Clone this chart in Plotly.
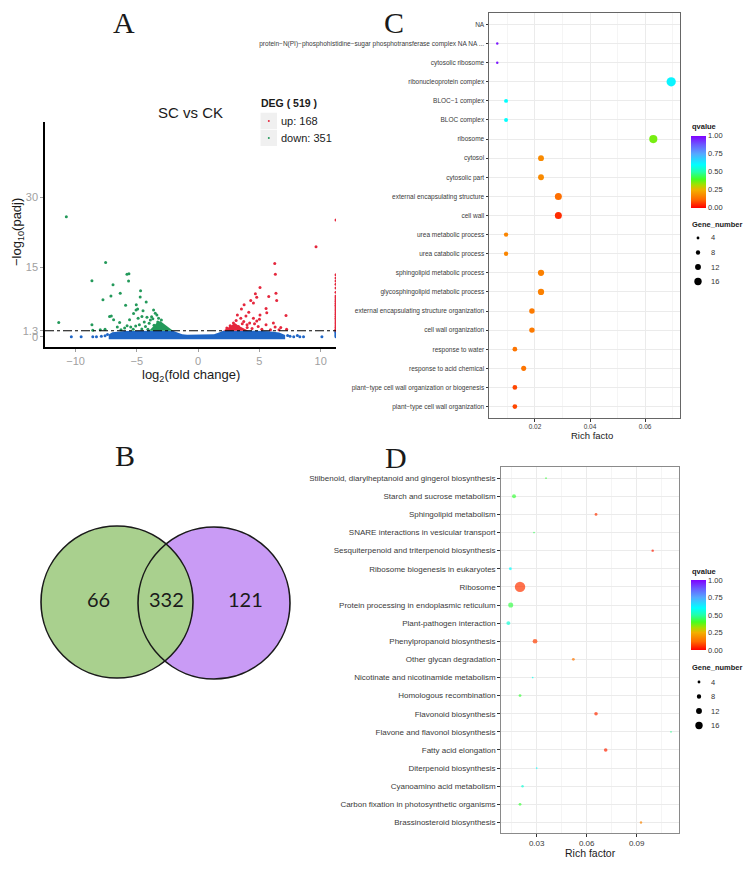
import plotly.graph_objects as go

W, H = 756, 869
def px(x): return x / W
def py(y): return 1 - y / H

SANS = "Liberation Sans, Arial, sans-serif"
SERIF = "Liberation Serif, Times New Roman, serif"

# ---------------- DATA ----------------
deg_up = 168
deg_down = 351

# volcano: significant down (green)
green_x = [-10.76, -7.55, -8.67, -5.81, -5.65, -5.68, -6.95, -6.36, -7.12, -7.77, -4.70, -4.73, -4.24,
           -5.92, -5.05, -5.07, -4.94, -5.27, -7.23, -7.09, -6.90, -6.41, -11.38, -8.67, -7.99, -6.0,
           -5.6, -5.5, -4.59, -4.18, -3.64, -3.5, -3.37, -3.23, -4.4, -4.8, -4.0, -3.9, -4.3, -5.1,
           -4.6, -3.8, -3.3, -3.6, -3.1, -2.9, -4.1, -3.5, -5.3, -6.3, -7.6, -8.6, -3.0, -3.7, -2.7,
           -2.5, -5.8, -4.5, -4.9, -6.6]
green_y = [25.9, 16.0, 12.1, 13.5, 13.6, 12.0, 11.2, 9.4, 8.8, 8.0, 9.9, 8.6, 7.5,
           6.8, 6.9, 5.8, 6.0, 5.0, 4.4, 4.5, 3.7, 3.1, 3.1, 2.6, 1.5, 1.9,
           3.7, 2.1, 4.4, 4.2, 5.8, 5.1, 4.7, 4.0, 3.2, 2.6, 2.9, 3.6, 2.2, 2.3,
           1.7, 4.3, 3.2, 2.5, 2.7, 2.2, 1.6, 1.8, 1.6, 1.5, 1.6, 1.4, 3.6, 3.9, 2.0,
           1.6, 2.4, 5.6, 4.0, 2.1]
green_core_x = [-4.0, -3.7, -3.4, -3.1, -2.8, -2.4, -2.05]
green_core_y = [1.3, 2.2, 3.0, 3.4, 2.8, 2.0, 1.3]

# volcano: significant up (red)
red_x = [11.25, 9.62, 6.25, 6.30, 5.05, 4.67, 5.76, 6.35, 6.41, 4.29, 4.78, 3.75, 4.51, 3.53, 5.54,
         5.6, 4.13, 5.05, 7.17, 3.2, 3.48, 4.51, 3.72, 4.78, 3.99, 5.54, 6.14, 6.28, 6.74, 7.22,
         2.88, 2.61, 3.29, 2.34, 4.2, 4.9, 3.9, 4.4, 5.2, 5.9, 3.1, 3.6, 4.6, 5.0, 3.3, 2.7, 6.6, 4.0]
red_y = [25.2, 19.4, 15.8, 13.5, 10.6, 9.3, 8.7, 9.4, 7.8, 7.8, 8.5, 6.9, 7.3, 6.0, 6.1,
         5.2, 5.3, 4.7, 4.6, 4.7, 4.0, 4.0, 3.3, 3.4, 2.6, 2.6, 3.0, 2.1, 2.0, 1.6,
         3.0, 2.4, 2.2, 1.9, 3.0, 2.2, 4.5, 1.8, 1.6, 1.5, 3.5, 2.8, 2.8, 3.8, 1.7, 1.6, 1.5, 2.0]
red_core_x = [2.05, 2.4, 2.75, 3.0, 3.3, 3.7, 4.1]
red_core_y = [1.3, 2.0, 2.7, 3.0, 2.4, 1.8, 1.3]
red_cap_x = [11.25] * 26
red_cap_y = [13.4, 12.7, 12.0, 11.3, 10.5, 9.6, 8.8, 8.4, 8.0, 7.6, 7.2, 6.8, 6.4, 6.0, 5.6, 5.2,
             4.8, 4.4, 4.0, 3.6, 3.2, 2.8, 2.4, 2.0, 1.6, 1.4]

# volcano: not significant (blue) - dense band outline and scattered points
blue_area_x = [-7.3, -7.0, -6.0, -4.5, -2.05, -1.7, -1.3, -0.9, 0.9, 1.3, 1.7, 2.05, 4.5, 5.8, 6.6, 7.1, 7.1, -7.3]
blue_area_y = [0.5, 1.0, 1.25, 1.3, 1.3, 0.9, 0.55, 0.42, 0.42, 0.55, 0.9, 1.3, 1.3, 1.2, 0.9, 0.4, -0.55, -0.55]
blue_x = [-10.35, -9.55, -8.6, -8.3, -7.9, -7.6, -7.4, 7.3, 7.5, 7.8, 8.1, 8.3, 8.6, 10.1,
          11.25, 11.25, 11.25, 11.25, 11.25, 11.25, 11.25]
blue_y = [0.0, 0.0, 0.0, 0.0, 0.1, 0.2, 0.5, 0.3, 0.1, 0.0, 0.3, 0.0, 0.0, 0.0,
          0.0, 0.2, 0.4, 0.6, 0.8, 1.0, 1.2]
padj_cut = 1.3
vol_xticks = [-10, -5, 0, 5, 10]
vol_yticks = [0, 1.3, 15, 30]
vol_yticktext = ["0", "1.3", "15", "30"]

# Venn
venn_values = [66, 332, 121]

# GO enrichment (panel C)
go_terms = ["NA",
            "protein\u2212N(PI)\u2212phosphohistidine\u2212sugar phosphotransferase complex NA NA ...",
            "cytosolic ribosome", "ribonucleoprotein complex", "BLOC\u22121 complex", "BLOC complex",
            "ribosome", "cytosol", "cytosolic part", "external encapsulating structure", "cell wall",
            "urea metabolic process", "urea catabolic process", "sphingolipid metabolic process",
            "glycosphingolipid metabolic process", "external encapsulating structure organization",
            "cell wall organization", "response to water", "response to acid chemical",
            "plant\u2212type cell wall organization or biogenesis", "plant\u2212type cell wall organization"]
go_rich = [None, 0.0063, 0.0063, 0.0695, 0.0095, 0.0095, 0.0630, 0.0222, 0.0222, 0.0285, 0.0285,
           0.0095, 0.0095, 0.0222, 0.0222, 0.0189, 0.0189, 0.0127, 0.0159, 0.0127, 0.0127]
go_q = [None, 0.97, 0.97, 0.62, 0.60, 0.60, 0.36, 0.18, 0.18, 0.13, 0.05, 0.17, 0.17, 0.16, 0.16,
        0.15, 0.15, 0.14, 0.14, 0.08, 0.08]
go_genes = [None, 3, 3, 21, 7, 7, 18, 12, 12, 15, 15, 8, 8, 13, 13, 11, 11, 9, 10, 9, 9]

# KEGG enrichment (panel D)
kegg_terms = ["Stilbenoid, diarylheptanoid and gingerol biosynthesis", "Starch and sucrose metabolism",
              "Sphingolipid metabolism", "SNARE interactions in vesicular transport",
              "Sesquiterpenoid and triterpenoid biosynthesis", "Ribosome biogenesis in eukaryotes",
              "Ribosome", "Protein processing in endoplasmic reticulum", "Plant-pathogen interaction",
              "Phenylpropanoid biosynthesis", "Other glycan degradation",
              "Nicotinate and nicotinamide metabolism", "Homologous recombination",
              "Flavonoid biosynthesis", "Flavone and flavonol biosynthesis", "Fatty acid elongation",
              "Diterpenoid biosynthesis", "Cyanoamino acid metabolism",
              "Carbon fixation in photosynthetic organisms", "Brassinosteroid biosynthesis"]
kegg_rich = [0.0356, 0.0164, 0.0656, 0.0284, 0.0996, 0.0142, 0.0200, 0.0144, 0.0130, 0.0290,
             0.0520, 0.0276, 0.0200, 0.0656, 0.1106, 0.0714, 0.0300, 0.0215, 0.0200, 0.0926]
kegg_q = [0.42, 0.42, 0.06, 0.44, 0.03, 0.60, 0.06, 0.43, 0.55, 0.07, 0.14, 0.58, 0.42, 0.05,
          0.48, 0.04, 0.60, 0.55, 0.42, 0.17]
kegg_genes = [1, 7, 4, 1, 3, 4, 24, 10, 7, 9, 4, 1, 4, 6, 1, 6, 1, 3, 4, 3]

size_legend = [4, 8, 12, 16]
q_ticks = [0, 0.25, 0.5, 0.75, 1.0]

# ---------------- STYLE ----------------
RED = "#E5273D"
GREEN = "#23995A"
BLUE = "#1F66C6"
QSCALE = [[0.0, "#FF0000"], [0.12, "#FF6A00"], [0.25, "#F2B000"], [0.32, "#AADD00"],
          [0.40, "#44FF22"], [0.50, "#22FFAA"], [0.60, "#00FFFF"], [0.75, "#55AAFF"],
          [0.88, "#6A5AFF"], [1.0, "#8000FF"]]

def gsize(v):
    return 0.38 * v + 1.3

fig = go.Figure()

# ---- Panel A: volcano ----
fig.add_trace(go.Scatter(x=blue_area_x, y=blue_area_y, fill="toself", mode="lines",
                         line=dict(width=0), fillcolor=BLUE, xaxis="x", yaxis="y", hoverinfo="skip"))
fig.add_trace(go.Scatter(x=blue_x, y=blue_y, mode="markers", marker=dict(size=3, color=BLUE),
                         xaxis="x", yaxis="y"))
fig.add_trace(go.Scatter(x=green_core_x, y=green_core_y, fill="toself", mode="lines",
                         line=dict(width=0), fillcolor=GREEN, xaxis="x", yaxis="y"))
fig.add_trace(go.Scatter(x=green_x, y=green_y, mode="markers", marker=dict(size=3, color=GREEN),
                         xaxis="x", yaxis="y"))
fig.add_trace(go.Scatter(x=red_core_x, y=red_core_y, fill="toself", mode="lines",
                         line=dict(width=0), fillcolor=RED, xaxis="x", yaxis="y"))
fig.add_trace(go.Scatter(x=red_x + red_cap_x, y=red_y + red_cap_y, mode="markers",
                         marker=dict(size=3, color=RED), xaxis="x", yaxis="y"))

# ---- Panel C: GO dot plot ----
c_idx = [i for i, r in enumerate(go_rich) if r is not None]
fig.add_trace(go.Scatter(
    x=[go_rich[i] for i in c_idx], y=c_idx, mode="markers",
    marker=dict(size=[gsize(go_genes[i]) for i in c_idx], color=[go_q[i] for i in c_idx],
                coloraxis="coloraxis", line=dict(width=0), opacity=1),
    xaxis="x2", yaxis="y2"))

# ---- Panel D: KEGG dot plot ----
fig.add_trace(go.Scatter(
    x=kegg_rich, y=list(range(len(kegg_terms))), mode="markers",
    marker=dict(size=[gsize(v) for v in kegg_genes], color=kegg_q,
                coloraxis="coloraxis2", line=dict(width=0)),
    xaxis="x3", yaxis="y3"))

grid = "#EBEBEB"
minor_grid = "#F5F5F5"

def dot_yaxis(domain, n, labels, fsize, lc):
    return dict(domain=domain, range=[n - 1 + 0.6, -0.6], tickmode="array",
                tickvals=list(range(n)), ticktext=labels, showgrid=True, gridcolor=grid,
                gridwidth=0.8, zeroline=False, showline=True, mirror=True, linecolor=lc,
                linewidth=1, ticks="outside", ticklen=2.5, tickcolor="#333333", tickwidth=0.8,
                tickfont=dict(size=fsize, color="#3A3A3A", family=SANS), automargin=False)

fig.update_layout(
    width=W, height=H, margin=dict(l=0, r=0, t=0, b=0),
    paper_bgcolor="white", plot_bgcolor="rgba(0,0,0,0)", showlegend=False,
    font=dict(family=SANS),
    xaxis=dict(domain=[px(45), px(336)], range=[-12.5, 11.25], anchor="y",
               showline=True, linecolor="black", linewidth=1.5, showgrid=False, zeroline=False,
               tickmode="array", tickvals=vol_xticks, ticks="outside", ticklen=3,
               tickcolor="#A0A0A0", tickfont=dict(size=11, color="#A0A0A0"), automargin=False),
    yaxis=dict(domain=[py(347), py(122)], range=[-2.2, 46.3], anchor="x",
               showline=True, linecolor="black", linewidth=1.5, showgrid=False, zeroline=False,
               tickmode="array", tickvals=vol_yticks, ticktext=vol_yticktext, ticks="outside",
               ticklen=3, tickcolor="#A0A0A0", tickfont=dict(size=11, color="#A0A0A0"),
               automargin=False),
    xaxis2=dict(domain=[px(489), px(680)], range=[0.0033, 0.0727], anchor="y2",
                tick0=0, dtick=0.02, tickformat=".2f", showgrid=True, gridcolor=grid, gridwidth=0.8,
                minor=dict(dtick=0.01, showgrid=True, gridcolor=minor_grid, gridwidth=0.5),
                zeroline=False, showline=True, mirror=True, linecolor="#666666", linewidth=1,
                ticks="outside", ticklen=2.5, tickcolor="#333333", tickwidth=0.8,
                tickfont=dict(size=6.5, color="#3A3A3A"), automargin=False),
    yaxis2=dot_yaxis([py(418), py(13)], len(go_terms), go_terms, 6.5, "#666666") | dict(anchor="x2"),
    xaxis3=dict(domain=[px(500.7), px(679)], range=[0.0084, 0.1154], anchor="y3",
                tick0=0, dtick=0.03, tickformat=".2f", showgrid=True, gridcolor=grid, gridwidth=0.8,
                minor=dict(dtick=0.015, showgrid=True, gridcolor=minor_grid, gridwidth=0.5),
                zeroline=False, showline=True, mirror=True, linecolor="#8A8A8A", linewidth=1,
                ticks="outside", ticklen=2.5, tickcolor="#333333", tickwidth=0.8,
                tickfont=dict(size=8, color="#3A3A3A"), automargin=False),
    yaxis3=dot_yaxis([py(833.3), py(467.3)], len(kegg_terms), kegg_terms, 8, "#8A8A8A") | dict(anchor="x3"),
    coloraxis=dict(colorscale=QSCALE, cmin=0, cmax=1,
                   colorbar=dict(x=px(691), xanchor="left", y=py(171.5), yanchor="middle",
                                 len=72, lenmode="pixels", thickness=15, thicknessmode="pixels",
                                 xpad=0, ypad=0, outlinewidth=0, tickmode="array",
                                 tickvals=q_ticks, ticktext=[f"{v:.2f}" for v in q_ticks],
                                 ticks="", tickfont=dict(size=7.5, color="#333333"))),
    coloraxis2=dict(colorscale=QSCALE, cmin=0, cmax=1,
                    colorbar=dict(x=px(691), xanchor="left", y=py(615), yanchor="middle",
                                  len=70, lenmode="pixels", thickness=15, thicknessmode="pixels",
                                  xpad=0, ypad=0, outlinewidth=0, tickmode="array",
                                  tickvals=q_ticks, ticktext=[f"{v:.2f}" for v in q_ticks],
                                  ticks="", tickfont=dict(size=7.5, color="#333333"))),
)

annotations = []
def ann(text, x, y, size, color="#1A1A1A", xanchor="center", family=SANS, angle=0):
    annotations.append(dict(text=text, x=px(x), y=py(y), xref="paper", yref="paper",
                            xanchor=xanchor, yanchor="middle", showarrow=False, textangle=angle,
                            font=dict(size=size, color=color, family=family)))

# panel letters
ann("A", 124, 22, 30, family=SERIF)
ann("B", 125, 455, 30, family=SERIF)
ann("C", 394, 22, 30, family=SERIF)
ann("D", 396, 457, 30, family=SERIF)

# volcano texts
ann("SC vs CK", 190.5, 112, 15)
ann("\u2212log<sub>10</sub>(padj)", 17, 232, 13, angle=-90)
ann("log<sub>2</sub>(fold change)", 190.5, 375, 13)
ann(f"<b>DEG ( {deg_up + deg_down} )</b>", 259, 103, 10.5, xanchor="left")
ann(f"up: {deg_up}", 279, 121, 11, xanchor="left")
ann(f"down: {deg_down}", 279, 138, 11, xanchor="left")

# Venn numbers
for v, (x, y) in zip(venn_values, [(98, 599), (166, 599), (245, 599)]):
    ann(str(v), x, y, 20, family="Lato, Open Sans, sans-serif")

# C / D axis titles and legends
ann("Rich facto", 592, 435, 9.5)
ann("Rich factor", 590, 853, 10.5)
ann("<b>qvalue</b>", 690, 126.5, 7.5, xanchor="left")
ann("<b>qvalue</b>", 690, 571, 7.5, xanchor="left")
ann("<b>Gene_number</b>", 690, 224, 7.5, xanchor="left")
ann("<b>Gene_number</b>", 690, 667.5, 7.5, xanchor="left")

shapes = []
# threshold line
shapes.append(dict(type="line", xref="x domain", yref="y", x0=0, x1=1, y0=padj_cut, y1=padj_cut,
                   line=dict(color="black", width=1, dash="dashdot")))
# volcano legend keys
for (y0, y1, col) in [(112.7, 129.3, RED), (130, 146, GREEN)]:
    shapes.append(dict(type="rect", xref="paper", yref="paper", x0=px(260.5), x1=px(277),
                       y0=py(y1), y1=py(y0), fillcolor="#F0F0F0", line=dict(width=0), layer="below"))
    cy = (y0 + y1) / 2
    shapes.append(dict(type="circle", xref="paper", yref="paper", x0=px(267.8), x1=px(269.8),
                       y0=py(cy + 1), y1=py(cy - 1), fillcolor=col, line=dict(width=0)))

# Venn circles
def circ(cx, cy, r, fill, line):
    return dict(type="circle", xref="paper", yref="paper", x0=px(cx - r), x1=px(cx + r),
                y0=py(cy + r), y1=py(cy - r), fillcolor=fill, line=line)
shapes.append(circ(214, 603, 76, "#C99BF5", dict(width=0)))
shapes.append(circ(117, 602, 76, "#A9D08E", dict(color="#1A1A1A", width=1.6)))
shapes.append(circ(214, 603, 76, "rgba(0,0,0,0)", dict(color="#1A1A1A", width=1.6)))

# size legends
for base_y, lab_x, dot_x in [(238, 709, 698), (682, 709, 699)]:
    for k, v in enumerate(size_legend):
        cy = base_y + k * 14.5
        d = gsize(v)
        shapes.append(dict(type="circle", xref="paper", yref="paper", x0=px(dot_x - d / 2),
                           x1=px(dot_x + d / 2), y0=py(cy + d / 2), y1=py(cy - d / 2),
                           fillcolor="black", line=dict(width=0)))
        ann(str(v), lab_x, cy, 7.5, color="#333333", xanchor="left")

fig.update_layout(annotations=annotations, shapes=shapes)
fig.write_html("out.html", config={"displayModeBar": False},
               post_script="document.body.style.margin='0px';")
